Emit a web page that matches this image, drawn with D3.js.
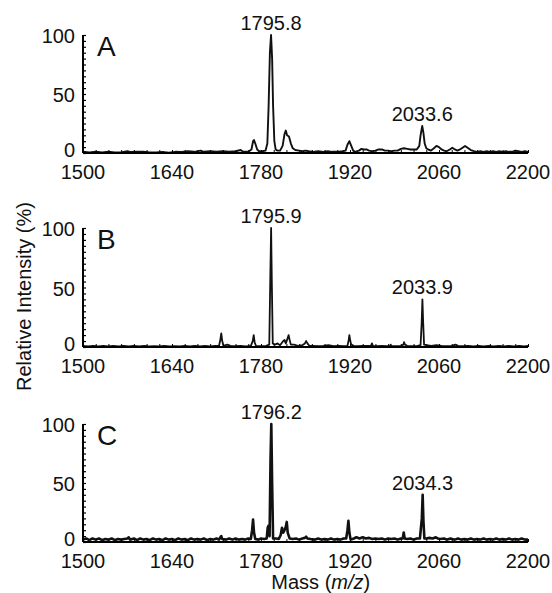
<!DOCTYPE html>
<html>
<head>
<meta charset="utf-8">
<script src="https://cdn.jsdelivr.net/npm/d3@7"></script>
<style>
  body { margin: 0; background: #fff; }
  text { font-family: "Liberation Sans", Arial, sans-serif; fill: #111; }
</style>
</head>
<body>
<div id="chart"></div>
<script>
// tick labels
var xTicks = [1500, 1640, 1780, 1920, 2060, 2200];
var yTicks = [0, 50, 100];
var panelNames = ["A", "B", "C"];

// labelled peaks [m/z, intensity, label]
var peaksA = [[1795.8, 100, "1795.8"], [2033.6, 23, "2033.6"]];
var peaksB = [[1795.9, 100, "1795.9"], [2033.9, 40, "2033.9"]];
var peaksC = [[1796.2, 100, "1796.2"], [2034.3, 40, "2034.3"]];

// spectra, [m/z, relative intensity %]
var specA = [[1500,1],[1510,0.5],[1520,1],[1530,0.5],[1540,1],[1550,0.5],[1560,0.5],[1570,1.5],[1575,0.8],[1585,1.2],[1595,1],[1605,0.5],[1615,0.5],[1625,0.8],[1635,0.3],[1645,1],[1655,0.8],[1665,1.5],[1675,1],[1685,2],[1690,1],[1700,1.5],[1710,1],[1720,1.5],[1730,1],[1740,1.5],[1748,2.5],[1752,1],[1760,1],[1765,3],[1767.5,10],[1769,11],[1771,8],[1774,3],[1777,1.5],[1782,1.5],[1787,2],[1790,8],[1792,40],[1794,85],[1795.8,100],[1797.5,80],[1799,40],[1801,10],[1803,3],[1806,2],[1810,2],[1814,6],[1817,16],[1819,19],[1821,15],[1824,14],[1827,8],[1830,4],[1834,2.5],[1840,2],[1845,1.5],[1850,2],[1855,1.5],[1862,1],[1870,1.5],[1878,1],[1885,1.5],[1892,1],[1900,1],[1908,1.5],[1913,2],[1916,7],[1919,10],[1922,6],[1925,2],[1928,1],[1934,2],[1938,3.5],[1942,3],[1946,3],[1950,2],[1955,1.5],[1960,2],[1965,3],[1970,3],[1975,2],[1980,2],[1985,1.5],[1990,2],[1995,2],[2000,3.5],[2005,4],[2010,3.5],[2015,3],[2020,3],[2025,3],[2029,6],[2031,15],[2033.6,23],[2035.5,17],[2037.5,8],[2040,4],[2043,3],[2047,2],[2052,4],[2056,6],[2060,5],[2064,3],[2068,2],[2072,1.5],[2077,3],[2081,4.5],[2085,3],[2089,2],[2093,3],[2097,4.5],[2101,6],[2105,4.5],[2110,2.5],[2115,1.5],[2120,1],[2125,1.5],[2130,1],[2135,1.5],[2140,1],[2145,1.5],[2150,1],[2155,1.5],[2160,1],[2165,1.5],[2170,1],[2175,1],[2180,2],[2185,1.5],[2190,1],[2195,1.5],[2200,1]];

var specB = [[1500,1],[1508,0.5],[1516,1],[1524,0.5],[1532,1],[1540,0.6],[1548,1],[1556,0.5],[1564,1],[1572,0.6],[1580,1],[1588,0.5],[1596,1],[1604,0.6],[1612,0.8],[1620,0.5],[1628,1],[1636,0.6],[1644,0.8],[1652,0.5],[1660,1],[1668,0.6],[1676,1],[1684,0.6],[1692,1],[1700,0.6],[1708,1],[1714,1],[1716,6],[1717.5,11.5],[1719,5],[1721,1],[1727,2],[1732,1],[1740,0.8],[1748,1],[1756,0.6],[1764,1],[1767,5],[1768.5,10],[1770,4],[1772,1],[1780,0.8],[1788,1],[1793,2],[1794.7,60],[1795.9,100],[1797,55],[1798.5,3],[1802,2],[1806,3],[1810,1.5],[1815,5],[1817,6],[1819,3],[1821,6],[1823.5,10],[1825,6],[1827,2],[1832,2],[1838,1],[1845,1.5],[1849,3],[1851,5],[1853,3],[1856,1],[1862,1],[1870,0.8],[1878,1],[1886,1.5],[1894,0.8],[1902,1],[1910,0.8],[1916,1],[1918,6],[1919,10],[1920.5,5],[1922,2],[1926,1],[1932,0.8],[1940,1],[1948,1],[1953,1],[1954.5,3],[1956,1],[1962,0.8],[1970,1],[1978,0.8],[1983,1],[1984,2],[1985,1],[1992,0.8],[2000,1],[2004,2],[2005,4],[2006.5,2],[2010,1],[2018,0.8],[2026,1],[2031,1.5],[2032.7,20],[2033.9,40],[2035,22],[2036.5,2],[2040,1.5],[2048,1],[2056,1.5],[2064,1],[2072,0.8],[2080,1],[2086,2],[2090,1],[2098,0.8],[2106,1],[2114,0.6],[2122,1],[2130,0.6],[2138,1],[2146,0.6],[2154,1],[2162,0.6],[2170,1],[2178,0.6],[2186,1],[2194,0.6],[2200,1]];

var specC = [[1500,2],[1505,3],[1510,1.5],[1515,3],[1520,2],[1525,3],[1530,1.5],[1535,2.5],[1540,2],[1545,3],[1550,1.5],[1555,2.5],[1560,2],[1565,2.5],[1570,3],[1572,4],[1574,2],[1580,3],[1585,1.5],[1590,3],[1595,2],[1600,2.5],[1605,1.5],[1610,3],[1615,2],[1620,2.5],[1625,1.5],[1630,3],[1635,2],[1640,2.5],[1645,1.5],[1650,3],[1655,2],[1660,2.5],[1665,1.5],[1670,3],[1675,2],[1680,2.5],[1685,2],[1690,3],[1695,1.5],[1700,2.5],[1705,2],[1710,3],[1714,2],[1716,4],[1717.5,5],[1719,2.5],[1725,2],[1730,3],[1735,2],[1740,3],[1745,2],[1750,2.5],[1755,2],[1760,3],[1764,2.5],[1766,10],[1767.5,19],[1769,8],[1771,2.5],[1776,2],[1780,3],[1785,2.5],[1789,3],[1790.5,12],[1792,14],[1793.5,5],[1795,70],[1796.2,100],[1797.5,50],[1799,3],[1804,3],[1808,2.5],[1811,6],[1813,12],[1815,8],[1817,10],[1819,13],[1820.5,17],[1822,8],[1825,3],[1830,2.5],[1835,3],[1840,2],[1845,3],[1849,3.5],[1851,4.5],[1853,3],[1858,2.5],[1864,2],[1870,3],[1875,2],[1880,2.5],[1885,2],[1890,3],[1895,2],[1900,2.5],[1905,2],[1910,3],[1914,3],[1916,10],[1917.5,18],[1919,8],[1921,2],[1926,3],[1930,4],[1935,3],[1940,4],[1945,3],[1950,3.5],[1955,2.5],[1960,3],[1965,2.5],[1970,3],[1975,2],[1980,3],[1985,2.5],[1990,3],[1995,2],[2000,3],[2003,3],[2004.5,8],[2006,3],[2010,2.5],[2015,3],[2020,2],[2025,3],[2030,3],[2033,20],[2034.3,40],[2035.5,18],[2037,3],[2040,3],[2045,3.5],[2050,3],[2055,4],[2058,3],[2062,2.5],[2068,3],[2072,2],[2078,3],[2085,2],[2090,3],[2095,2],[2100,2.5],[2105,2],[2110,3],[2115,2],[2120,2.5],[2125,2],[2130,3],[2135,2],[2140,2.5],[2145,2],[2150,3],[2155,2],[2160,2.5],[2165,2],[2170,3],[2175,2],[2180,2.5],[2185,2],[2190,3],[2195,2],[2200,2]];

var chart = {
  width: 552,
  height: 593,
  left: 83,
  right: 528,
}
// top (100 %) and bottom (0 %) of each panel
var panelTop = [35, 228, 424];
var panelBottom = [153, 347, 542];
var traceWidth = [1.9, 1.8, 2.6];

var svg = d3.select("#chart")
  .append("svg")
  .attr("width", chart.width)
  .attr("height", chart.height);

var x = d3.scaleLinear()
  .domain([1500, 2200])
  .range([chart.left, chart.right]);

var specs = [specA, specB, specC];
var peaks = [peaksA, peaksB, peaksC];

for (let i = 0; i < 3; i++) {
  let y = d3.scaleLinear()
    .domain([0, 100])
    .range([panelBottom[i], panelTop[i]]);

  let g = svg.append("g");

  /* trace */
  g.append("path")
    .datum(specs[i])
    .attr("d", d3.line().x((d) => x(d[0])).y((d) => y(d[1])))
    .style("fill", "none")
    .style("stroke", "#111")
    .style("stroke-width", traceWidth[i])
    .style("stroke-linejoin", "round");

  /* x axis */
  let xAxis = g.append("g")
    .attr("transform", `translate(0, ${panelBottom[i]})`)
    .call(d3.axisBottom(x).tickValues(d3.range(1500, 2201, 20)).tickSize(-3).tickFormat(""));
  xAxis.select(".domain").attr("d", `M${chart.left},0H${chart.right}`).style("stroke-width", 2);
  xAxis.selectAll(".tick line").style("stroke-width", 1);
  g.append("g")
    .attr("transform", `translate(0, ${panelBottom[i]})`)
    .selectAll("text")
    .data(xTicks)
    .enter()
    .append("text")
    .attr("x", (d) => x(d))
    .attr("y", 26)
    .attr("text-anchor", "middle")
    .style("font-size", "20px")
    .text((d) => d);

  /* y axis */
  let yAxis = g.append("g")
    .attr("transform", `translate(${chart.left}, 0)`)
    .call(d3.axisLeft(y).tickValues(d3.range(0, 101, 5)).tickSize(-3).tickFormat(""));
  yAxis.select(".domain").attr("d", `M0,${panelTop[i]}V${panelBottom[i]}`).style("stroke-width", 2);
  yAxis.selectAll(".tick line").style("stroke-width", 1.2);
  g.append("g")
    .selectAll("text")
    .data(yTicks)
    .enter()
    .append("text")
    .attr("x", chart.left - 8)
    .attr("y", (d) => y(d))
    .attr("dy", (d) => d === 0 ? "0.2em" : "0.42em")
    .attr("text-anchor", "end")
    .style("font-size", "20px")
    .text((d) => d);

  /* panel letter */
  g.append("text")
    .attr("x", chart.left + 14)
    .attr("y", panelTop[i] + 21)
    .style("font-size", "28px")
    .text(panelNames[i]);

  /* peak labels */
  g.selectAll(".peak")
    .data(peaks[i])
    .enter()
    .append("text")
    .attr("x", (d) => x(d[0]))
    .attr("y", (d) => y(d[1]) - 5)
    .attr("text-anchor", "middle")
    .style("font-size", "20px")
    .text((d) => d[2]);
}

svg.append("text")
  .attr("transform", `translate(31, ${(panelTop[0] + panelBottom[2]) / 2 + 8}) rotate(-90)`)
  .attr("text-anchor", "middle")
  .style("font-size", "20px")
  .text("Relative Intensity (%)");

svg.append("text")
  .attr("x", x(1874))
  .attr("y", 589)
  .attr("text-anchor", "middle")
  .style("font-size", "20px")
  .html("Mass (<tspan font-style='italic'>m/z</tspan>)");
</script>
</body>
</html>
